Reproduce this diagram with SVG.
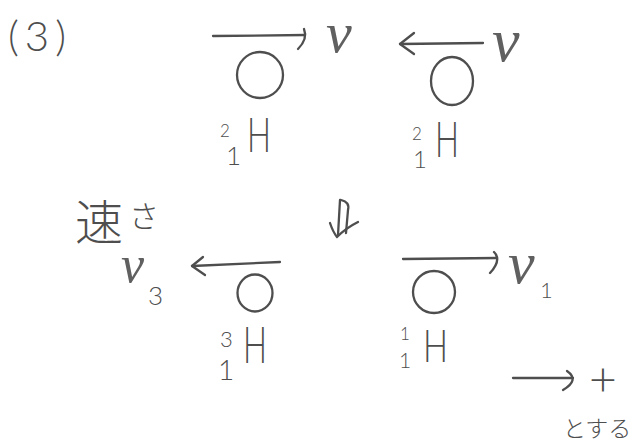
<svg xmlns="http://www.w3.org/2000/svg" width="635" height="445" viewBox="0 0 635 445">
<style>
.ln{fill:none;stroke:#4e4e4e;stroke-width:2.3;stroke-linecap:round;stroke-linejoin:round}
.t{fill:#4e4e4e;font-family:Lato,"Liberation Sans",Arial,sans-serif;font-weight:300}
.v{fill:#606060;font-family:"Liberation Serif","Times New Roman",serif;font-style:italic}
.j{fill:#4e4e4e;font-family:"Noto Sans CJK JP","Noto Sans CJK SC",sans-serif;font-weight:300}
</style>
<rect width="635" height="445" fill="#ffffff"/>
<g id="part-label">
<text class="t" x="8" y="51" font-size="42" letter-spacing="6">(3)</text>
</g>
<g id="deuteron-1">
<circle class="ln" cx="260" cy="75" r="23"/>
<text class="t" x="220" y="137" font-size="17">2</text>
<text class="t" x="226" y="165" font-size="26">1</text>
<text class="t" x="247" y="152" font-size="48" textLength="24" lengthAdjust="spacingAndGlyphs">H</text>
</g>
<g id="deuteron-2">
<ellipse class="ln" cx="452" cy="81" rx="21" ry="24"/>
<text class="t" x="412" y="140" font-size="17">2</text>
<text class="t" x="413" y="168" font-size="24">1</text>
<text class="t" x="435" y="157" font-size="50" textLength="24" lengthAdjust="spacingAndGlyphs">H</text>
</g>
<g id="triton">
<ellipse class="ln" cx="255" cy="293" rx="17.5" ry="18.5"/>
<text class="t" x="220" y="347" font-size="22">3</text>
<text class="t" x="218" y="380" font-size="28">1</text>
<text class="t" x="243" y="363" font-size="52" textLength="24" lengthAdjust="spacingAndGlyphs">H</text>
</g>
<g id="proton">
<circle class="ln" cx="434" cy="292" r="21"/>
<text class="t" x="400" y="340" font-size="17">1</text>
<text class="t" x="399" y="368" font-size="21">1</text>
<text class="t" x="423" y="362" font-size="46" textLength="25" lengthAdjust="spacingAndGlyphs">H</text>
</g>
<g id="connectors">
<g id="arrow-d1">
<path class="ln" d="M213,36 L305,35"/>
<path class="ln" d="M304,29 Q308,39 298,49"/>
<text class="v" x="326" y="52" font-size="58">v</text>
</g>
<g id="arrow-d2">
<path class="ln" d="M483,43 L400,44"/>
<path class="ln" d="M414,33 L400,44 L414,54"/>
<text class="v" x="492" y="61" font-size="62">v</text>
</g>
<g id="arrow-reaction">
<path class="ln" d="M340,200 L338,235"/>
<path class="ln" d="M341,200 Q350,202 348,210 L346,233"/>
<path class="ln" d="M330,223 Q333,232 337,237 Q346,228 358,222"/>
</g>
<g id="arrow-t">
<path class="ln" d="M280,262 L192,266"/>
<path class="ln" d="M203,257 L192,266 L205,275"/>
<text class="j" x="75" y="240" font-size="48">速</text>
<text class="j" x="129" y="227" font-size="30">さ</text>
<text class="v" x="121" y="282" font-size="52">v</text>
<text class="t" x="148" y="305" font-size="26">3</text>
</g>
<g id="arrow-p">
<path class="ln" d="M403,259 L497,258"/>
<path class="ln" d="M494,252 Q502,260 490,273"/>
<text class="v" x="508" y="283" font-size="60">v</text>
<text class="t" x="540" y="298" font-size="22">1</text>
</g>
<g id="sign-convention">
<path class="ln" d="M513,378 L573,378"/>
<path class="ln" d="M567,371 Q580,380 563,390"/>
<text class="t" x="589" y="396" font-size="48">+</text>
<text class="j" x="563" y="437" font-size="23">とする</text>
</g>
</g>
</svg>
